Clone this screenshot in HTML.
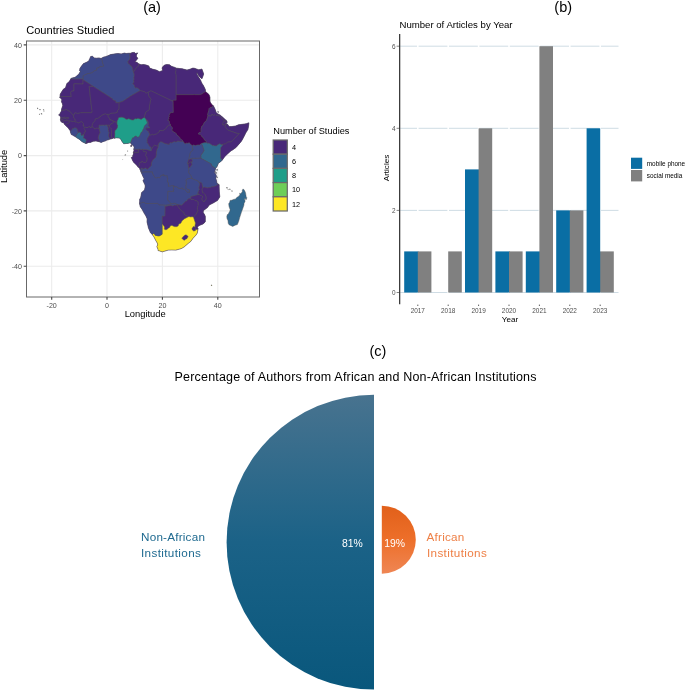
<!DOCTYPE html>
<html><head><meta charset="utf-8"><title>Figure</title>
<style>
html,body{margin:0;padding:0;background:#fff;}
body{width:685px;height:691px;overflow:hidden;font-family:"Liberation Sans",sans-serif;}
svg{display:block;}
text{font-family:"Liberation Sans",sans-serif;}
.tk{font-size:7.1px;fill:#4d4d4d;}
.ax{font-size:9.35px;fill:#000;}
.cal{fill:#000;}
</style></head><body>
<svg width="685" height="691" viewBox="0 0 685 691">
<defs>
<linearGradient id="gb" x1="0" y1="0" x2="0" y2="1"><stop offset="0" stop-color="#48738f"/><stop offset="0.5" stop-color="#1b6287"/><stop offset="1" stop-color="#09577c"/></linearGradient>
<linearGradient id="go" x1="0" y1="0" x2="0" y2="1"><stop offset="0" stop-color="#e1601a"/><stop offset="0.5" stop-color="#ed6f2a"/><stop offset="1" stop-color="#ef8654"/></linearGradient>
<clipPath id="cp"><rect x="26.5" y="41" width="233" height="256"/></clipPath>
</defs>
<rect width="685" height="691" fill="#fff"/>

<text class="cal" x="152" y="12.3" font-size="14.5" text-anchor="middle">(a)</text>
<text x="26.2" y="33.7" font-size="11.1">Countries Studied</text>
<g clip-path="url(#cp)">
<path d="M51.7,41.0V297.0M107.0,41.0V297.0M162.4,41.0V297.0M217.8,41.0V297.0M26.5,44.9H259.5M26.5,100.2H259.5M26.5,155.6H259.5M26.5,210.9H259.5M26.5,266.2H259.5" stroke="#ececec" stroke-width="1.1" fill="none"/>
<path d="M70.7,79.1L71.3,78.2L75.2,77.3L76.6,75.9L78.8,74.2L80.3,71.5L79.6,70.8L79.9,68.4L81.4,66.2L83.5,63.6L86.0,62.6L88.1,61.4L88.8,60.7L90.0,58.2L90.7,56.5L92.4,56.3L94.3,57.9L96.3,58.2L99.0,57.9L101.0,58.5L103.7,57.1L105.4,56.7L107.3,56.0L110.6,54.6L115.6,53.8L118.1,53.5L121.2,53.9L124.5,53.1L126.1,53.5L128.6,53.3L130.4,53.3L132.5,52.5L134.5,52.4L135.6,53.5L137.8,52.9L136.4,54.9L136.4,56.5L137.8,58.2L136.9,59.6L135.0,61.8L136.7,62.3L137.8,62.9L138.9,63.9L141.1,64.7L143.6,64.5L146.4,65.1L148.8,65.9L149.7,68.1L153.0,69.3L156.3,70.1L159.6,71.7L162.7,70.4L162.1,68.1L162.7,66.8L164.6,65.1L166.8,64.5L169.6,64.8L171.3,66.2L173.5,66.9L176.7,68.2L182.3,68.8L187.0,70.1L189.8,69.3L192.9,68.1L195.1,68.4L196.5,69.0L198.4,69.7L200.6,69.4L201.9,69.0L203.7,74.0L202.3,78.1L201.9,78.8L200.1,77.3L198.4,75.3L197.1,72.7L196.7,73.7L197.6,75.6L198.9,77.5L200.6,80.3L201.2,81.7L202.0,83.4L203.7,86.1L205.3,89.4L205.6,91.7L207.3,93.0L209.1,94.7L210.0,97.5L210.0,101.3L210.6,102.7L212.2,104.9L213.4,105.8L215.0,109.1L216.2,112.4L217.5,113.8L220.0,114.9L222.5,117.1L225.2,119.6L226.3,120.4L226.9,121.3L227.2,122.4L225.2,123.5L226.5,123.5L226.5,123.9L227.5,124.2L229.1,126.6L231.6,126.6L235.5,126.0L238.5,124.8L242.4,124.3L246.3,123.7L248.9,122.8L248.5,126.5L247.9,129.5L245.7,133.1L244.9,134.8L243.0,138.4L241.6,140.9L239.6,143.4L236.0,147.5L232.6,149.9L231.1,150.8L227.5,153.9L224.8,156.5L222.2,160.2L220.3,161.9L218.3,163.3L218.0,164.4L216.9,166.8L215.6,168.5L215.3,169.7L214.4,172.4L215.8,174.4L216.4,176.0L215.8,178.5L216.4,180.2L216.9,183.2L218.3,184.0L219.1,185.3L219.3,191.5L219.7,195.7L219.8,197.0L217.5,200.4L213.6,202.8L209.2,205.1L207.5,207.6L203.5,210.5L203.1,212.3L204.8,215.0L205.3,216.4L205.3,219.2L205.3,221.7L205.0,222.2L203.1,223.9L199.8,225.3L197.8,226.4L197.3,227.5L198.1,228.3L197.9,229.5L197.3,233.0L195.9,235.2L193.0,238.3L190.6,241.6L188.4,243.2L184.3,246.8L181.5,248.5L177.9,249.5L175.8,250.1L171.8,249.9L168.2,250.1L162.4,251.8L160.5,251.3L159.1,250.7L158.1,250.6L158.0,249.3L156.9,246.6L157.7,244.9L157.4,243.2L155.8,240.5L154.4,237.7L153.7,236.5L152.3,234.6L150.5,232.7L149.0,229.3L148.4,227.7L147.9,225.5L147.0,221.9L147.2,218.9L145.8,215.8L144.1,213.1L142.5,210.0L140.3,206.7L139.5,203.4L139.7,201.2L139.7,199.3L140.7,197.6L141.1,195.4L141.6,192.6L144.1,190.4L144.6,189.7L145.2,186.8L145.1,185.1L144.1,182.9L143.0,180.7L143.6,179.9L144.1,178.8L142.5,175.5L141.2,172.4L140.8,171.6L140.4,170.3L140.0,169.5L139.9,168.8L137.7,166.6L136.5,165.1L133.6,162.2L132.7,160.7L132.0,159.1L131.3,157.5L132.8,156.7L132.8,155.3L133.2,154.4L133.6,154.0L133.3,152.8L134.0,150.4L133.8,149.2L134.2,147.1L133.1,145.2L131.8,144.8L131.2,143.5L130.6,143.1L129.2,143.0L127.8,143.4L126.4,143.5L123.7,143.7L122.0,141.4L120.9,139.5L119.5,138.1L116.5,137.8L114.5,138.2L113.7,138.0L112.2,138.6L110.0,139.1L109.0,139.6L106.5,140.2L105.7,140.8L103.6,141.4L102.2,142.0L101.2,142.4L99.1,141.7L96.0,141.0L93.2,141.3L90.4,142.4L88.8,142.4L86.3,143.5L85.7,143.5L82.1,141.7L79.2,139.2L77.2,138.1L75.4,136.8L72.5,135.1L71.3,134.5L70.4,132.0L70.4,130.9L69.1,129.3L68.3,127.9L66.6,126.5L65.2,125.0L64.1,124.0L63.9,122.8L61.9,122.4L60.9,121.3L60.7,121.0L60.4,119.2L60.8,117.9L60.5,117.1L60.0,115.7L58.6,114.9L59.7,114.3L60.5,112.4L61.5,110.9L61.5,109.6L61.9,108.0L62.8,105.5L62.2,103.0L61.4,101.9L61.9,99.7L60.3,97.7L59.8,97.5L60.0,96.4L60.3,94.1L62.8,90.0L63.3,89.2L65.5,87.8L66.9,83.4L68.9,82.0L70.0,80.3Z" fill="#482878" stroke="#482878" stroke-width="0.3"/>
<g stroke="#555" stroke-width="0.45" stroke-linejoin="round">
<path d="M70.7,79.1L71.3,78.2L75.2,77.3L76.6,75.9L78.8,74.2L80.3,71.5L79.6,70.8L79.9,68.4L81.4,66.2L83.5,63.6L86.0,62.6L88.1,61.4L88.8,60.7L90.0,58.2L90.7,56.5L92.4,56.3L94.3,57.9L96.3,58.2L99.0,57.9L101.0,58.5L102.1,60.0L102.3,61.7L103.2,64.7L103.9,65.2L103.4,66.3L99.8,66.8L98.6,67.8L96.9,68.0L96.8,70.1L93.6,71.2L92.5,72.6L90.3,73.3L87.5,73.7L83.1,75.8L83.1,79.0L70.7,79.1Z" fill="#3e4989"/>
<path d="M59.8,97.5L60.0,96.4L60.3,94.1L62.8,90.0L63.3,89.2L65.5,87.8L66.9,83.4L68.9,82.0L70.0,80.3L70.7,79.1L83.1,79.0L83.1,79.8L83.0,84.0L73.9,83.8L74.0,90.9L71.4,91.2L70.7,92.6L71.3,96.6L60.4,96.6L59.8,97.5Z" fill="#482878"/>
<path d="M101.0,58.5L103.7,57.1L105.4,56.7L107.3,56.0L110.6,54.6L115.6,53.8L118.1,53.5L121.2,53.9L124.5,53.1L126.1,53.5L128.6,53.3L130.4,53.3L129.8,54.8L130.2,57.4L129.6,59.7L127.9,61.2L128.1,63.3L130.4,65.0L130.4,65.6L132.1,66.8L133.3,71.7L134.2,74.2L134.3,75.4L133.8,77.7L134.1,79.0L133.7,80.5L134.0,82.2L132.8,83.4L134.5,85.4L134.6,86.6L135.6,88.1L136.9,87.6L139.0,88.9L140.2,90.6L130.8,95.9L122.8,101.3L118.9,102.6L115.8,102.8L115.8,101.1L114.5,100.6L112.8,99.8L112.1,98.5L93.4,86.5L83.1,79.8L83.1,79.0L83.1,75.8L87.5,73.7L90.3,73.3L92.5,72.6L93.6,71.2L96.8,70.1L96.9,68.0L98.6,67.8L99.8,66.8L103.4,66.3L103.9,65.2L103.2,64.7L102.3,61.7L102.1,60.0L101.0,58.5Z" fill="#3e4989"/>
<path d="M130.4,53.3L132.5,52.5L134.5,52.4L135.6,53.5L137.8,52.9L136.4,54.9L136.4,56.5L137.8,58.2L136.9,59.6L135.0,61.8L136.7,62.3L137.8,62.9L138.9,63.9L138.7,66.0L137.3,66.8L136.5,67.7L134.9,69.9L134.6,71.1L133.3,71.7L132.1,66.8L130.4,65.6L130.4,65.0L128.1,63.3L127.9,61.2L129.6,59.7L130.2,57.4L129.8,54.8L130.4,53.3Z" fill="#482878"/>
<path d="M138.9,63.9L141.1,64.7L143.6,64.5L146.4,65.1L148.8,65.9L149.7,68.1L153.0,69.3L156.3,70.1L159.6,71.7L162.7,70.4L162.1,68.1L162.7,66.8L164.6,65.1L166.8,64.5L169.6,64.8L171.3,66.2L173.5,66.9L176.7,68.2L175.7,69.6L176.1,70.7L175.4,72.5L176.2,74.7L176.2,94.7L176.2,100.2L173.1,100.2L173.0,101.4L162.0,96.1L151.0,90.8L148.2,92.3L146.2,93.3L144.6,91.8L140.2,90.6L139.0,88.9L136.9,87.6L135.6,88.1L134.6,86.6L134.5,85.4L132.8,83.4L134.0,82.2L133.7,80.5L134.1,79.0L133.8,77.7L134.3,75.4L134.2,74.2L133.3,71.7L134.6,71.1L134.9,69.9L136.5,67.7L137.3,66.8L138.7,66.0L138.9,63.9Z" fill="#482878"/>
<path d="M176.7,68.2L182.3,68.8L187.0,70.1L189.8,69.3L192.9,68.1L195.1,68.4L196.5,69.0L198.4,69.7L200.6,69.4L201.9,69.0L203.7,74.0L202.3,78.1L201.9,78.8L200.1,77.3L198.4,75.3L197.1,72.7L196.7,73.7L197.6,75.6L198.9,77.5L200.6,80.3L201.2,81.7L202.0,83.4L203.7,86.1L205.3,89.4L205.6,91.7L203.9,92.5L202.0,94.0L199.8,94.7L194.4,94.7L194.1,94.1L193.7,94.7L176.2,94.7L176.2,74.7L175.4,72.5L176.1,70.7L175.7,69.6L176.7,68.2Z" fill="#482878"/>
<path d="M205.6,91.7L207.3,93.0L209.1,94.7L210.0,97.5L210.0,101.3L210.6,102.7L212.2,104.9L213.4,105.8L212.0,107.3L209.9,107.8L209.1,108.6L208.8,110.5L207.6,114.6L207.9,115.7L207.4,118.0L206.3,120.8L204.6,122.1L203.5,124.2L203.2,125.4L201.9,126.1L201.1,129.1L201.1,131.5L200.7,132.4L199.2,132.5L198.3,134.0L200.0,134.2L201.4,135.6L201.9,136.7L203.1,137.3L204.8,140.3L206.2,140.8L206.2,142.3L206.6,142.8L203.9,142.8L201.2,143.8L199.5,145.1L197.5,145.1L195.3,145.7L193.6,145.1L192.4,145.8L190.0,144.0L189.3,142.8L187.8,143.4L186.5,143.2L185.7,143.7L184.5,143.4L182.8,141.1L182.4,140.2L180.3,139.1L179.6,137.4L178.5,136.2L176.6,134.8L176.6,133.9L175.1,132.8L173.0,131.6L172.0,130.8L171.8,129.9L172.3,128.8L172.2,127.6L170.7,125.9L170.3,124.7L170.4,124.1L169.4,123.2L169.3,121.6L168.7,120.6L167.8,120.7L168.1,119.7L168.8,118.6L168.4,117.4L169.4,116.6L168.8,115.9L169.5,114.2L170.8,112.2L173.2,112.4L173.0,101.4L173.1,100.2L176.2,100.2L176.2,94.7L193.7,94.7L194.1,94.1L194.4,94.7L199.8,94.7L202.0,94.0L203.9,92.5L205.6,91.7Z" fill="#440154"/>
<path d="M213.4,105.8L215.0,109.1L216.2,112.4L217.5,113.8L220.0,114.9L222.5,117.1L225.2,119.6L226.3,120.4L225.5,121.1L224.3,120.9L223.3,120.0L222.2,118.3L221.0,117.5L220.3,116.5L217.9,115.4L215.9,115.4L215.3,114.8L213.6,115.4L212.0,114.2L211.1,116.2L207.9,115.7L207.6,114.6L208.8,110.5L209.1,108.6L209.9,107.8L212.0,107.3L213.4,105.8Z" fill="#482878"/>
<path d="M226.3,120.4L226.9,121.3L227.2,122.4L225.2,123.5L226.5,123.5L226.5,123.9L225.9,125.2L225.5,125.3L224.8,124.8L224.2,125.0L222.6,125.0L222.6,124.1L222.4,123.4L224.3,120.9L225.5,121.1L226.3,120.4Z" fill="#482878"/>
<path d="M226.5,123.9L227.5,124.2L229.1,126.6L231.6,126.6L235.5,126.0L238.5,124.8L242.4,124.3L246.3,123.7L248.9,122.8L248.5,126.5L247.9,129.5L245.7,133.1L244.9,134.8L243.0,138.4L241.6,140.9L239.6,143.4L236.0,147.5L232.6,149.9L231.1,150.8L227.5,153.9L224.8,156.5L222.2,160.2L220.5,157.9L220.5,147.9L222.9,144.7L223.7,143.8L225.4,143.8L227.9,141.8L231.5,141.7L239.3,133.4L237.0,133.4L228.0,130.2L226.9,129.2L225.9,127.8L224.9,126.3L225.5,125.3L225.9,125.2L226.5,123.9Z" fill="#482878"/>
<path d="M207.9,115.7L211.1,116.2L212.0,114.2L213.6,115.4L215.3,114.8L215.9,115.4L217.9,115.4L220.3,116.5L221.0,117.5L222.2,118.3L223.3,120.0L224.3,120.9L222.4,123.4L222.6,124.1L222.6,125.0L224.2,125.0L224.8,124.8L225.5,125.3L224.9,126.3L225.9,127.8L226.9,129.2L228.0,130.2L237.0,133.4L239.3,133.4L231.5,141.7L227.9,141.8L225.4,143.8L223.7,143.8L222.9,144.7L221.0,144.7L219.9,143.8L217.4,144.9L216.6,146.1L214.7,145.9L214.1,145.5L213.5,145.6L212.6,145.6L209.1,143.2L207.1,143.2L206.6,142.8L206.2,142.3L206.2,140.8L204.8,140.3L203.1,137.3L201.9,136.7L201.4,135.6L200.0,134.2L198.3,134.0L199.2,132.5L200.7,132.4L201.1,131.5L201.1,129.1L201.9,126.1L203.2,125.4L203.5,124.2L204.6,122.1L206.3,120.8L207.4,118.0L207.9,115.7Z" fill="#482878"/>
<path d="M222.2,160.2L220.3,161.9L218.3,163.3L218.0,164.4L216.9,166.8L215.6,168.5L211.6,165.7L211.4,164.1L201.4,158.5L200.9,158.2L200.9,155.2L201.7,154.1L203.0,152.3L204.0,150.3L202.8,147.1L202.5,145.7L201.2,143.8L203.9,142.8L206.6,142.8L207.1,143.2L209.1,143.2L212.6,145.6L213.5,145.6L214.1,145.5L214.7,145.9L216.6,146.1L217.4,144.9L219.9,143.8L221.0,144.7L222.9,144.7L220.5,147.9L220.5,157.9L222.2,160.2Z" fill="#31688e"/>
<path d="M192.4,145.8L193.6,145.1L195.3,145.7L197.5,145.1L199.5,145.1L201.2,143.8L202.5,145.7L202.8,147.1L204.0,150.3L203.0,152.3L201.7,154.1L200.9,155.2L200.9,158.2L195.3,158.4L192.2,158.3L191.3,158.7L189.6,159.5L188.9,159.3L189.0,157.2L189.6,156.1L189.8,153.9L190.3,152.6L191.4,151.2L192.4,150.4L193.3,149.5L192.2,149.1L192.4,145.8Z" fill="#3e4989"/>
<path d="M188.9,159.3L189.6,159.5L191.3,158.7L192.4,160.3L192.2,161.9L191.4,162.2L189.9,162.1L189.1,163.6L187.4,163.4L187.7,161.9L188.0,161.7L188.1,160.0L188.9,159.3Z" fill="#482878"/>
<path d="M187.4,163.4L189.1,163.6L189.9,162.1L191.4,162.2L191.6,163.3L192.1,163.9L192.2,164.8L191.5,165.4L190.4,166.9L189.4,167.9L188.3,168.0L188.1,164.7L187.4,163.4Z" fill="#482878"/>
<path d="M215.6,168.5L215.3,169.7L214.4,172.4L215.8,174.4L216.4,176.0L215.8,178.5L216.4,180.2L216.9,183.2L218.3,184.0L219.1,185.3L218.7,184.1L216.4,185.7L213.4,186.8L211.8,186.7L210.8,187.6L208.9,187.6L208.1,188.0L204.8,187.2L202.7,187.4L201.9,183.7L201.0,182.4L199.0,182.3L197.7,181.1L196.2,180.3L194.4,179.8L193.3,179.3L192.1,178.6L190.6,175.1L189.0,173.6L188.5,172.0L188.8,170.5L188.3,168.0L189.4,167.9L190.4,166.9L191.5,165.4L192.2,164.8L192.1,163.9L191.6,163.3L191.4,162.2L192.2,161.9L192.4,160.3L191.3,158.7L192.2,158.3L195.3,158.4L200.9,158.2L201.4,158.5L211.4,164.1L211.6,165.7L215.6,168.5Z" fill="#3e4989"/>
<path d="M219.1,185.3L219.3,191.5L219.7,195.7L219.8,197.0L217.5,200.4L213.6,202.8L209.2,205.1L207.5,207.6L203.5,210.5L203.1,212.3L204.8,215.0L205.3,216.4L205.3,219.2L205.3,221.7L205.0,222.2L203.1,223.9L199.8,225.3L197.8,226.4L197.3,227.5L198.1,228.3L197.9,229.5L195.8,229.5L195.6,228.3L195.2,227.0L194.9,226.0L195.4,223.0L194.7,221.0L193.4,217.1L196.3,214.0L197.0,212.0L197.5,211.7L197.8,210.1L197.3,209.3L197.4,207.2L198.0,205.3L198.0,201.8L196.5,200.9L195.2,200.7L194.6,200.0L193.3,199.4L191.0,199.5L190.8,198.5L190.6,196.5L199.0,194.2L200.6,195.5L201.3,195.3L202.4,196.0L202.6,197.1L202.0,198.4L202.2,200.3L204.0,202.0L204.9,200.1L206.1,199.5L205.8,196.0L204.7,194.0L203.7,193.1L202.7,193.1L201.9,189.5L202.7,187.4L204.8,187.2L208.1,188.0L208.9,187.6L210.8,187.6L211.8,186.7L213.4,186.8L216.4,185.7L218.7,184.1L219.1,185.3Z" fill="#482878"/>
<path d="M197.7,181.1L199.0,182.3L201.0,182.4L201.9,183.7L202.7,187.4L201.9,189.5L202.7,193.1L203.7,193.1L204.7,194.0L205.8,196.0L206.1,199.5L204.9,200.1L204.0,202.0L202.2,200.3L202.0,198.4L202.6,197.1L202.4,196.0L201.3,195.3L200.6,195.5L199.0,194.2L197.5,193.5L198.4,190.9L199.3,190.0L198.7,187.7L199.3,185.4L199.8,184.7L199.0,182.3L197.7,181.1Z" fill="#482878"/>
<path d="M192.1,178.6L193.3,179.3L194.4,179.8L196.2,180.3L197.7,181.1L199.0,182.3L199.8,184.7L199.3,185.4L198.7,187.7L199.3,190.0L198.4,190.9L197.5,193.5L199.0,194.2L190.6,196.5L190.8,198.5L188.8,198.8L187.2,199.9L186.9,200.9L185.9,201.1L183.4,203.4L181.9,205.2L181.0,205.2L180.1,204.9L177.0,204.6L176.5,204.4L176.5,204.2L175.4,203.5L173.6,203.4L171.3,204.0L167.6,200.0L167.8,191.2L173.5,191.3L173.3,190.3L173.7,189.3L173.2,188.0L173.5,186.6L173.2,185.8L174.2,185.8L174.3,186.7L175.6,186.6L177.4,186.9L178.3,188.1L180.5,188.5L182.2,187.7L182.9,189.1L185.0,189.5L186.0,190.7L187.1,192.2L189.3,192.2L189.0,189.2L188.3,189.7L186.3,188.7L185.6,188.2L185.9,185.4L186.4,182.1L185.8,180.9L186.6,179.1L187.3,178.8L191.1,178.3L192.1,178.6Z" fill="#3e4989"/>
<path d="M177.0,204.6L180.1,204.9L181.0,205.2L181.9,205.2L183.4,203.4L185.9,201.1L186.9,200.9L187.2,199.9L188.8,198.8L190.8,198.5L191.0,199.5L193.3,199.4L194.6,200.0L195.2,200.7L196.5,200.9L198.0,201.8L198.0,205.3L197.4,207.2L197.3,209.3L197.8,210.1L197.5,211.7L197.0,212.0L196.3,214.0L193.4,217.1L191.9,216.8L191.0,217.1L189.6,216.7L188.5,216.7L184.6,215.0L183.8,213.2L183.8,212.3L182.6,211.9L179.5,208.9L178.6,207.3L178.0,206.8L177.0,204.6Z" fill="#482878"/>
<path d="M177.0,204.6L178.0,206.8L178.6,207.3L179.5,208.9L182.6,211.9L183.8,212.3L183.8,213.2L184.6,215.0L188.5,216.7L184.6,218.7L182.1,220.7L181.2,222.6L180.4,223.6L178.9,223.9L178.4,225.2L178.1,226.1L176.3,226.7L174.1,226.6L172.7,225.8L171.6,225.4L170.2,226.1L169.6,227.4L168.3,228.2L166.9,229.5L164.9,229.8L164.3,228.8L164.5,227.1L162.9,224.5L162.1,224.1L162.1,216.0L164.8,215.9L164.9,206.0L167.0,205.9L171.3,205.0L172.3,206.1L174.1,205.0L174.9,205.0L176.5,205.1L177.0,204.6Z" fill="#482878"/>
<path d="M195.2,227.0L193.8,226.5L193.0,226.7L192.7,227.5L192.0,228.6L192.0,229.5L193.6,231.0L195.3,230.7L195.8,229.5L195.6,228.3L195.2,227.0Z" fill="#482878"/>
<path d="M197.9,229.5L197.3,233.0L195.9,235.2L193.0,238.3L190.6,241.6L188.4,243.2L184.3,246.8L181.5,248.5L177.9,249.5L175.8,250.1L171.8,249.9L168.2,250.1L162.4,251.8L160.5,251.3L159.1,250.7L158.1,250.6L158.0,249.3L156.9,246.6L157.7,244.9L157.4,243.2L155.8,240.5L154.4,237.7L153.7,236.5L152.3,234.6L153.6,233.2L154.7,234.0L155.2,235.2L156.4,235.4L158.1,235.9L159.6,235.7L162.1,234.3L162.1,224.1L162.9,224.5L164.5,227.1L164.3,228.8L164.9,229.8L166.9,229.5L168.3,228.2L169.6,227.4L170.2,226.1L171.6,225.4L172.7,225.8L174.1,226.6L176.3,226.7L178.1,226.1L178.4,225.2L178.9,223.9L180.4,223.6L181.2,222.6L182.1,220.7L184.6,218.7L188.5,216.7L189.6,216.7L191.0,217.1L191.9,216.8L193.4,217.1L194.7,221.0L195.4,223.0L194.9,226.0L195.2,227.0L193.8,226.5L193.0,226.7L192.7,227.5L192.0,228.6L192.0,229.5L193.6,231.0L195.3,230.7L195.8,229.5L197.9,229.5Z" fill="#fde725"/>
<path d="M152.3,234.6L150.5,232.7L149.0,229.3L148.4,227.7L147.9,225.5L147.0,221.9L147.2,218.9L145.8,215.8L144.1,213.1L142.5,210.0L140.3,206.7L139.5,203.4L140.9,202.9L142.5,202.4L144.3,202.5L146.0,203.7L146.4,203.5L157.6,203.4L159.5,204.8L166.2,205.1L171.3,204.0L173.6,203.4L175.4,203.5L176.5,204.2L176.5,204.4L177.0,204.6L176.5,205.1L174.9,205.0L174.1,205.0L172.3,206.1L171.3,205.0L167.0,205.9L164.9,206.0L164.8,215.9L162.1,216.0L162.1,224.1L162.1,234.3L159.6,235.7L158.1,235.9L156.4,235.4L155.2,235.2L154.7,234.0L153.6,233.2L152.3,234.6Z" fill="#3e4989"/>
<path d="M139.5,203.4L139.7,201.2L139.7,199.3L140.7,197.6L141.1,195.4L141.6,192.6L144.1,190.4L144.6,189.7L145.2,186.8L145.1,185.1L144.1,182.9L143.0,180.7L143.6,179.9L144.1,178.8L142.5,175.5L141.2,172.4L142.3,172.1L143.1,172.1L144.1,171.8L152.3,171.8L152.9,173.9L153.7,175.5L154.4,176.4L155.4,177.9L157.2,177.7L158.1,177.3L159.7,177.7L160.1,177.0L160.8,175.4L162.5,175.2L162.7,174.7L164.1,174.7L163.8,175.7L167.2,175.7L167.3,177.5L167.8,178.5L167.4,180.2L167.6,181.9L168.5,182.9L168.4,186.2L169.1,185.9L170.3,186.0L172.0,185.6L173.2,185.8L173.5,186.6L173.2,188.0L173.7,189.3L173.3,190.3L173.5,191.3L167.8,191.2L167.6,200.0L171.3,204.0L166.2,205.1L159.5,204.8L157.6,203.4L146.4,203.5L146.0,203.7L144.3,202.5L142.5,202.4L140.9,202.9L139.5,203.4Z" fill="#3e4989"/>
<path d="M140.8,171.6L140.4,170.3L140.0,169.5L141.2,168.3L142.0,167.8L143.0,168.8L142.0,169.4L141.6,170.1L141.5,171.3L140.8,171.6Z" fill="#3e4989"/>
<path d="M141.2,172.4L140.8,171.6L141.5,171.3L141.6,170.1L142.0,169.4L143.0,168.8L143.8,169.0L144.7,168.0L146.2,168.0L146.4,168.8L147.4,169.3L149.0,167.6L150.6,166.2L151.4,165.3L151.3,163.0L152.5,160.4L153.7,159.0L155.5,157.6L155.9,156.7L155.9,155.7L156.4,154.7L156.2,153.2L156.6,150.7L157.1,149.0L158.0,147.5L158.1,145.9L158.4,143.9L159.4,142.5L160.9,141.6L163.2,142.6L165.0,143.6L167.0,143.9L169.1,144.4L169.9,142.7L170.3,142.5L171.5,142.8L174.6,141.4L175.7,142.0L176.6,141.9L177.0,141.2L178.0,141.0L180.1,141.3L181.9,141.4L182.8,141.1L184.5,143.4L185.7,143.7L186.5,143.2L187.8,143.4L189.3,142.8L190.0,144.0L192.4,145.8L192.2,149.1L193.3,149.5L192.4,150.4L191.4,151.2L190.3,152.6L189.8,153.9L189.6,156.1L189.0,157.2L188.9,159.3L188.1,160.0L188.0,161.7L187.7,161.9L187.4,163.4L188.1,164.7L188.3,168.0L188.8,170.5L188.5,172.0L189.0,173.6L190.6,175.1L192.1,178.6L191.1,178.3L187.3,178.8L186.6,179.1L185.8,180.9L186.4,182.1L185.9,185.4L185.6,188.2L186.3,188.7L188.3,189.7L189.0,189.2L189.3,192.2L187.1,192.2L186.0,190.7L185.0,189.5L182.9,189.1L182.2,187.7L180.5,188.5L178.3,188.1L177.4,186.9L175.6,186.6L174.3,186.7L174.2,185.8L173.2,185.8L172.0,185.6L170.3,186.0L169.1,185.9L168.4,186.2L168.5,182.9L167.6,181.9L167.4,180.2L167.8,178.5L167.3,177.5L167.2,175.7L163.8,175.7L164.1,174.7L162.7,174.7L162.5,175.2L160.8,175.4L160.1,177.0L159.7,177.7L158.1,177.3L157.2,177.7L155.4,177.9L154.4,176.4L153.7,175.5L152.9,173.9L152.3,171.8L144.1,171.8L143.1,172.1L142.3,172.1L141.2,172.4Z" fill="#3e4989"/>
<path d="M140.0,169.5L139.9,168.8L137.7,166.6L139.9,165.0L138.8,163.2L139.8,162.5L141.6,162.2L141.9,160.9L143.3,162.3L145.8,162.4L146.6,161.1L147.0,159.2L146.7,157.1L145.4,155.4L146.6,152.2L145.9,151.7L143.8,151.9L143.0,150.5L143.3,149.3L146.7,149.4L149.0,150.1L151.2,150.8L151.4,149.3L152.8,146.7L154.5,145.2L156.3,145.7L158.1,145.9L158.0,147.5L157.1,149.0L156.6,150.7L156.2,153.2L156.4,154.7L155.9,155.7L155.9,156.7L155.5,157.6L153.7,159.0L152.5,160.4L151.3,163.0L151.4,165.3L150.6,166.2L149.0,167.6L147.4,169.3L146.4,168.8L146.2,168.0L144.7,168.0L143.8,169.0L143.0,168.8L142.0,167.8L141.2,168.3L140.0,169.5Z" fill="#482878"/>
<path d="M137.7,166.6L136.5,165.1L133.6,162.2L132.7,160.7L132.0,159.1L131.3,157.5L132.8,156.7L132.8,155.3L133.2,154.4L133.6,154.0L133.3,152.8L134.3,152.6L138.3,152.6L138.3,149.3L139.6,149.1L141.3,149.5L142.9,149.1L143.3,149.3L143.0,150.5L143.8,151.9L145.9,151.7L146.6,152.2L145.4,155.4L146.7,157.1L147.0,159.2L146.6,161.1L145.8,162.4L143.3,162.3L141.9,160.9L141.6,162.2L139.8,162.5L138.8,163.2L139.9,165.0L137.7,166.6Z" fill="#482878"/>
<path d="M133.3,152.8L134.0,150.4L133.8,149.2L138.3,149.3L138.3,152.6L134.3,152.6L133.3,152.8Z" fill="#482878"/>
<path d="M133.8,149.2L134.2,147.1L133.1,145.2L131.8,144.8L131.2,143.5L130.6,143.1L130.6,142.4L131.3,140.4L132.6,137.7L133.4,137.7L135.1,136.1L136.1,136.0L137.7,137.2L139.6,136.2L139.8,135.1L140.4,134.0L140.9,132.6L142.3,131.4L142.9,129.5L143.5,128.9L143.9,127.4L144.6,125.7L147.0,123.5L147.1,122.6L147.4,122.1L146.3,121.0L146.4,120.1L147.2,120.0L148.3,121.7L148.5,123.6L148.3,125.4L149.9,127.9L148.3,127.9L147.5,128.1L146.3,127.8L145.7,129.1L147.3,130.7L148.5,131.2L148.9,132.4L149.8,134.3L149.3,135.0L148.0,137.8L147.3,138.3L147.1,140.5L147.4,141.6L147.1,142.5L148.4,143.9L148.7,144.9L149.7,146.3L151.0,147.2L151.1,148.5L151.4,149.3L151.2,150.8L149.0,150.1L146.7,149.4L143.3,149.3L142.9,149.1L141.3,149.5L139.6,149.1L138.3,149.3L133.8,149.2Z" fill="#3e4989"/>
<path d="M170.3,124.7L168.6,125.2L167.2,126.3L165.2,129.3L162.6,130.6L159.9,130.5L159.1,130.7L159.4,131.7L158.0,132.6L156.8,133.7L153.3,134.8L152.6,134.2L152.1,134.1L151.6,134.8L149.3,135.0L148.0,137.8L147.3,138.3L147.1,140.5L147.4,141.6L147.1,142.5L148.4,143.9L148.7,144.9L149.7,146.3L151.0,147.2L151.1,148.5L151.4,149.3L152.8,146.7L154.5,145.2L156.3,145.7L158.1,145.9L158.4,143.9L159.4,142.5L160.9,141.6L163.2,142.6L165.0,143.6L167.0,143.9L169.1,144.4L169.9,142.7L170.3,142.5L171.5,142.8L174.6,141.4L175.7,142.0L176.6,141.9L177.0,141.2L178.0,141.0L180.1,141.3L181.9,141.4L182.8,141.1L182.4,140.2L180.3,139.1L179.6,137.4L178.5,136.2L176.6,134.8L176.6,133.9L175.1,132.8L173.0,131.6L172.0,130.8L171.8,129.9L172.3,128.8L172.2,127.6L170.7,125.9L170.3,124.7Z" fill="#482878"/>
<path d="M148.2,92.3L151.0,90.8L162.0,96.1L173.0,101.4L173.2,112.4L170.8,112.2L169.5,114.2L168.8,115.9L169.4,116.6L168.4,117.4L168.8,118.6L168.1,119.7L167.8,120.7L168.7,120.6L169.3,121.6L169.4,123.2L170.4,124.1L170.3,124.7L168.6,125.2L167.2,126.3L165.2,129.3L162.6,130.6L159.9,130.5L159.1,130.7L159.4,131.7L158.0,132.6L156.8,133.7L153.3,134.8L152.6,134.2L152.1,134.1L151.6,134.8L149.3,135.0L149.8,134.3L148.9,132.4L148.5,131.2L147.3,130.7L145.7,129.1L146.3,127.8L147.5,128.1L148.3,127.9L149.9,127.9L148.3,125.4L148.5,123.6L148.3,121.7L147.2,120.0L146.4,120.1L144.7,117.7L144.5,115.8L145.7,112.2L149.3,109.6L149.4,106.0L150.5,100.3L151.1,99.2L149.9,98.2L149.9,97.3L148.8,96.6L148.2,92.3Z" fill="#482878"/>
<path d="M140.2,90.6L144.6,91.8L146.2,93.3L148.2,92.3L148.8,96.6L149.9,97.3L149.9,98.2L151.1,99.2L150.5,100.3L149.4,106.0L149.3,109.6L145.7,112.2L144.5,115.8L144.7,117.7L143.3,117.9L141.1,119.5L139.0,118.7L137.5,118.5L136.7,118.9L135.0,118.8L133.4,120.0L132.0,120.1L128.6,118.7L127.3,119.3L125.9,119.3L124.9,118.2L122.1,117.2L119.1,117.5L118.4,118.1L118.0,119.7L117.2,120.8L117.0,123.3L114.9,121.7L113.9,121.7L113.0,122.5L113.1,120.6L109.9,120.0L109.8,118.7L108.2,116.9L107.9,115.6L108.1,114.3L109.9,114.1L110.9,113.2L114.7,112.9L117.1,112.5L117.3,110.8L118.9,108.9L118.9,102.6L122.8,101.3L130.8,95.9L140.2,90.6Z" fill="#482878"/>
<path d="M130.6,143.1L129.2,143.0L127.8,143.4L126.4,143.5L123.7,143.7L122.0,141.4L120.9,139.5L119.5,138.1L116.5,137.8L114.5,138.2L114.7,133.8L114.6,132.0L115.1,130.3L116.0,129.4L117.3,127.7L117.0,127.0L117.6,125.9L116.9,124.2L117.0,123.3L117.2,120.8L118.0,119.7L118.4,118.1L119.1,117.5L122.1,117.2L124.9,118.2L125.9,119.3L127.3,119.3L128.6,118.7L132.0,120.1L133.4,120.0L135.0,118.8L136.7,118.9L137.5,118.5L139.0,118.7L141.1,119.5L143.3,117.9L144.7,117.7L146.4,120.1L146.3,121.0L147.4,122.1L147.1,122.6L147.0,123.5L144.6,125.7L143.9,127.4L143.5,128.9L142.9,129.5L142.3,131.4L140.9,132.6L140.4,134.0L139.8,135.1L139.6,136.2L137.7,137.2L136.1,136.0L135.1,136.1L133.4,137.7L132.6,137.7L131.3,140.4L130.6,142.4L130.6,143.1Z" fill="#1f9e89"/>
<path d="M114.5,138.2L113.7,138.0L112.2,138.6L111.5,136.7L111.6,130.3L111.1,129.7L111.0,128.4L110.0,127.4L109.2,126.6L109.5,125.1L110.5,124.8L111.1,123.6L112.4,123.4L113.0,122.5L113.9,121.7L114.9,121.7L117.0,123.3L116.9,124.2L117.6,125.9L117.0,127.0L117.3,127.7L116.0,129.4L115.1,130.3L114.6,132.0L114.7,133.8L114.5,138.2Z" fill="#482878"/>
<path d="M112.2,138.6L110.0,139.1L109.4,138.2L108.6,136.4L108.4,135.1L109.0,132.6L108.3,131.5L108.1,129.4L108.1,127.4L106.9,125.9L107.1,125.1L109.5,125.1L109.2,126.6L110.0,127.4L111.0,128.4L111.1,129.7L111.6,130.3L111.5,136.7L112.2,138.6Z" fill="#482878"/>
<path d="M110.0,139.1L109.0,139.6L106.5,140.2L105.7,140.8L103.6,141.4L102.2,142.0L101.2,142.4L99.1,141.7L99.3,140.6L98.1,138.3L98.8,135.1L100.0,132.8L99.2,128.9L98.9,126.8L98.9,125.2L103.7,125.1L104.9,125.3L105.8,124.8L107.1,125.1L106.9,125.9L108.1,127.4L108.1,129.4L108.3,131.5L109.0,132.6L108.4,135.1L108.6,136.4L109.4,138.2L110.0,139.1Z" fill="#3e4989"/>
<path d="M108.1,114.3L106.3,114.3L105.6,113.7L104.1,114.1L101.5,115.3L101.0,116.1L98.8,117.4L98.5,118.1L97.3,118.7L96.0,118.3L95.2,119.0L94.8,120.9L92.6,123.2L92.7,124.1L91.9,125.3L92.1,126.9L93.3,127.5L93.8,128.4L95.1,129.0L96.0,128.3L97.3,128.2L99.2,128.9L98.9,126.8L98.9,125.2L103.7,125.1L104.9,125.3L105.8,124.8L107.1,125.1L109.5,125.1L110.5,124.8L111.1,123.6L112.4,123.4L113.0,122.5L113.1,120.6L109.9,120.0L109.8,118.7L108.2,116.9L107.9,115.6L108.1,114.3Z" fill="#482878"/>
<path d="M99.1,141.7L96.0,141.0L93.2,141.3L90.4,142.4L88.8,142.4L86.3,143.5L85.7,143.5L85.9,141.2L86.2,140.9L86.1,139.8L84.9,138.6L84.0,138.4L83.2,137.7L83.8,136.4L83.5,135.1L83.7,134.3L84.1,134.3L84.3,133.1L84.1,132.5L84.4,132.1L85.4,131.8L84.7,129.6L84.0,128.5L84.3,127.5L84.8,127.3L85.2,127.1L86.0,127.5L88.1,127.5L88.6,126.7L89.1,126.8L89.9,126.5L90.3,127.6L90.9,127.3L92.1,126.9L93.3,127.5L93.8,128.4L95.1,129.0L96.0,128.3L97.3,128.2L99.2,128.9L100.0,132.8L98.8,135.1L98.1,138.3L99.3,140.6L99.1,141.7Z" fill="#482878"/>
<path d="M85.7,143.5L82.1,141.7L79.2,139.2L77.2,138.1L75.4,136.8L76.0,135.9L76.2,135.1L77.4,133.6L78.7,132.3L79.3,132.2L80.0,131.9L81.2,133.6L81.0,134.7L81.6,135.3L82.3,135.3L82.9,134.2L83.7,134.3L83.5,135.1L83.8,136.4L83.2,137.7L84.0,138.4L84.9,138.6L86.1,139.8L86.2,140.9L85.9,141.2L85.7,143.5Z" fill="#31688e"/>
<path d="M75.4,136.8L72.5,135.1L71.3,134.5L70.4,132.0L70.4,130.9L71.9,129.7L72.2,128.9L72.6,128.3L73.4,128.3L74.1,127.8L76.3,127.8L77.0,128.7L77.7,129.9L77.6,130.7L78.0,131.4L78.0,132.5L78.7,132.3L77.4,133.6L76.2,135.1L76.0,135.9L75.4,136.8Z" fill="#3e4989"/>
<path d="M70.4,130.9L69.1,129.3L68.3,127.9L66.6,126.5L65.2,125.0L66.4,123.7L67.2,123.7L68.0,123.2L68.6,123.2L69.0,122.9L68.8,122.0L69.1,121.7L69.1,120.7L70.5,120.8L72.5,121.4L73.1,121.4L73.3,121.1L74.8,121.3L75.8,122.1L76.5,121.8L77.0,121.9L77.7,122.6L78.9,122.8L79.7,122.2L80.6,121.8L81.2,121.4L81.8,121.5L82.4,122.1L82.7,122.9L83.9,124.0L83.3,124.7L83.2,125.6L83.8,125.4L84.1,125.7L84.0,126.5L84.8,127.3L84.3,127.5L84.0,128.5L84.7,129.6L85.4,131.8L84.4,132.1L84.1,132.5L84.3,133.1L84.1,134.3L83.7,134.3L82.9,134.2L82.3,135.3L81.6,135.3L81.0,134.7L81.2,133.6L80.0,131.9L79.3,132.2L78.7,132.3L78.0,132.5L78.0,131.4L77.6,130.7L77.7,129.9L77.0,128.7L76.3,127.8L74.1,127.8L73.4,128.3L72.6,128.3L72.2,128.9L71.9,129.7L70.4,130.9Z" fill="#482878"/>
<path d="M65.2,125.0L64.1,124.0L63.9,122.8L61.9,122.4L60.9,121.3L62.3,120.8L63.3,120.9L64.0,120.6L69.1,120.7L69.1,121.7L68.8,122.0L69.0,122.9L68.6,123.2L68.0,123.2L67.2,123.7L66.4,123.7L65.2,125.0Z" fill="#482878"/>
<path d="M60.9,121.3L60.7,121.0L60.4,119.2L63.0,119.2L63.6,118.8L64.1,118.8L65.1,118.2L66.3,118.8L67.5,118.8L68.7,118.2L68.2,117.4L67.2,117.8L66.4,117.8L65.3,117.2L64.4,117.2L63.8,117.9L60.8,117.9L60.5,117.1L60.0,115.7L58.6,114.9L59.7,114.3L60.5,112.4L61.5,110.9L62.4,110.0L63.8,110.3L65.1,109.7L66.7,109.6L68.0,110.5L69.8,111.2L71.5,113.2L73.4,115.1L73.5,116.9L74.0,118.4L75.1,119.2L75.3,120.3L75.2,121.1L74.8,121.3L73.3,121.1L73.1,121.4L72.5,121.4L70.5,120.8L69.1,120.7L64.0,120.6L63.3,120.9L62.3,120.8L60.9,121.3Z" fill="#482878"/>
<path d="M60.4,119.2L60.8,117.9L63.8,117.9L64.4,117.2L65.3,117.2L66.4,117.8L67.2,117.8L68.2,117.4L68.7,118.2L67.5,118.8L66.3,118.8L65.1,118.2L64.1,118.8L63.6,118.8L63.0,119.2L60.4,119.2Z" fill="#482878"/>
<path d="M61.5,110.9L61.5,109.6L61.9,108.0L62.8,105.5L62.2,103.0L61.4,101.9L61.9,99.7L60.3,97.7L59.8,97.5L60.4,96.6L71.3,96.6L70.7,92.6L71.4,91.2L74.0,90.9L73.9,83.8L83.0,84.0L83.1,79.8L93.4,86.5L89.2,86.5L90.5,98.5L91.9,110.4L92.3,110.7L91.7,112.7L80.6,112.7L80.2,113.3L79.1,113.1L77.6,113.7L75.6,112.9L74.7,113.0L74.3,114.6L73.4,115.1L71.5,113.2L69.8,111.2L68.0,110.5L66.7,109.6L65.1,109.7L63.8,110.3L62.4,110.0L61.5,110.9Z" fill="#482878"/>
<path d="M73.4,115.1L74.3,114.6L74.7,113.0L75.6,112.9L77.6,113.7L79.1,113.1L80.2,113.3L80.6,112.7L91.7,112.7L92.3,110.7L91.9,110.4L90.5,98.5L89.2,86.5L93.4,86.5L112.1,98.5L112.8,99.8L114.5,100.6L115.8,101.1L115.8,102.8L118.9,102.6L118.9,108.9L117.3,110.8L117.1,112.5L114.7,112.9L110.9,113.2L109.9,114.1L108.1,114.3L106.3,114.3L105.6,113.7L104.1,114.1L101.5,115.3L101.0,116.1L98.8,117.4L98.5,118.1L97.3,118.7L96.0,118.3L95.2,119.0L94.8,120.9L92.6,123.2L92.7,124.1L91.9,125.3L92.1,126.9L90.9,127.3L90.3,127.6L89.9,126.5L89.1,126.8L88.6,126.7L88.1,127.5L86.0,127.5L85.2,127.1L84.8,127.3L84.0,126.5L84.1,125.7L83.8,125.4L83.2,125.6L83.3,124.7L83.9,124.0L82.7,122.9L82.4,122.1L81.8,121.5L81.2,121.4L80.6,121.8L79.7,122.2L78.9,122.8L77.7,122.6L77.0,121.9L76.5,121.8L75.8,122.1L74.8,121.3L75.2,121.1L75.3,120.3L75.1,119.2L74.0,118.4L73.5,116.9L73.4,115.1Z" fill="#482878"/>
<path d="M187.3,235.7L188.2,236.5L187.4,237.8L186.9,238.7L185.4,239.2L184.9,240.1L183.9,240.3L181.8,238.2L183.3,236.4L184.7,235.3L186.0,234.8Z" fill="#482878"/>
<path d="M244.2,190.0L244.9,191.2L245.6,193.1L246.1,196.4L246.8,197.7L246.5,199.0L246.0,199.8L245.1,198.2L244.5,199.0L245.1,201.1L244.8,202.2L244.1,202.9L243.9,205.2L242.8,208.4L241.4,212.3L239.7,217.5L238.7,221.3L237.4,224.5L235.2,225.2L232.7,226.4L231.1,225.7L229.0,224.7L228.2,223.2L228.0,220.7L227.0,218.6L226.8,216.6L227.3,214.6L228.5,214.1L228.6,213.2L229.9,211.1L230.1,209.3L229.5,208.0L229.0,206.3L228.7,203.7L229.7,202.2L230.1,200.4L231.4,200.3L233.0,199.7L234.0,199.2L235.2,199.2L236.8,197.6L239.1,195.9L239.9,194.5L239.6,193.3L240.7,193.7L242.3,191.8L242.3,190.1L243.2,188.9Z" fill="#31688e"/>
<path d="M37.0,108.3L37.9,108.0L37.7,108.7Z" fill="#fff" stroke="#4a4a4a" stroke-width="0.55"/>
<path d="M39.5,109.5L40.5,109.6L39.8,109.9Z" fill="#fff" stroke="#4a4a4a" stroke-width="0.55"/>
<path d="M43.5,109.1L43.8,109.6L43.4,109.6Z" fill="#fff" stroke="#4a4a4a" stroke-width="0.55"/>
<path d="M43.7,110.7L44.2,111.0L43.8,111.3Z" fill="#fff" stroke="#4a4a4a" stroke-width="0.55"/>
<path d="M41.3,113.2L42.1,114.1L41.7,114.3L41.2,113.9Z" fill="#fff" stroke="#4a4a4a" stroke-width="0.55"/>
<path d="M39.2,114.1L39.8,114.2L39.5,114.6Z" fill="#fff" stroke="#4a4a4a" stroke-width="0.55"/>
<path d="M130.4,146.0L131.1,145.1L131.8,145.3L131.7,146.4L130.9,146.7Z" fill="#482878" stroke="#4a4a4a" stroke-width="0.55"/>
<path d="M127.3,151.1L127.7,150.8L127.7,151.3Z" fill="#fff" stroke="#4a4a4a" stroke-width="0.55"/>
<path d="M125.0,154.9L125.4,154.4L125.7,154.9L125.2,155.5Z" fill="#fff" stroke="#4a4a4a" stroke-width="0.55"/>
<path d="M122.6,159.4L122.7,159.6L122.6,159.6Z" fill="#fff" stroke="#4a4a4a" stroke-width="0.55"/>
<path d="M215.6,171.5L216.0,171.9L216.5,173.3L215.8,173.4L215.6,172.4Z" fill="#3e4989" stroke="#4a4a4a" stroke-width="0.55"/>
<path d="M216.9,169.1L217.4,169.7L217.1,170.6L216.8,170.2Z" fill="#3e4989" stroke="#4a4a4a" stroke-width="0.55"/>
<path d="M216.8,176.7L217.5,177.1L217.1,177.7Z" fill="#3e4989" stroke="#4a4a4a" stroke-width="0.55"/>
<path d="M226.8,187.1L227.5,187.9L227.2,188.5L226.7,188.1Z" fill="#fff" stroke="#4a4a4a" stroke-width="0.55"/>
<path d="M229.4,189.2L230.2,189.0L230.2,189.7Z" fill="#fff" stroke="#4a4a4a" stroke-width="0.55"/>
<path d="M227.9,189.4L228.4,189.6L228.3,189.8Z" fill="#fff" stroke="#4a4a4a" stroke-width="0.55"/>
<path d="M231.7,190.7L232.3,190.8L232.0,191.5Z" fill="#fff" stroke="#4a4a4a" stroke-width="0.55"/>
<path d="M211.1,285.1L212.0,285.1L211.8,285.6L211.3,285.5Z" fill="#fde725" stroke="#4a4a4a" stroke-width="0.55"/>
<path d="M217.8,111.6L218.6,111.8L218.3,112.5L217.7,112.1Z" fill="#482878" stroke="#4a4a4a" stroke-width="0.55"/>
</g>
</g>
<rect x="26.5" y="41.0" width="233.0" height="256.0" fill="none" stroke="#686868" stroke-width="1"/>
<text class="tk" x="51.7" y="307.6" text-anchor="middle">-20</text>
<text class="tk" x="107.0" y="307.6" text-anchor="middle">0</text>
<text class="tk" x="162.4" y="307.6" text-anchor="middle">20</text>
<text class="tk" x="217.8" y="307.6" text-anchor="middle">40</text>
<text class="tk" x="21.9" y="47.5" text-anchor="end">40</text>
<text class="tk" x="21.9" y="102.8" text-anchor="end">20</text>
<text class="tk" x="21.9" y="158.2" text-anchor="end">0</text>
<text class="tk" x="21.9" y="213.5" text-anchor="end">-20</text>
<text class="tk" x="21.9" y="268.8" text-anchor="end">-40</text>
<path d="M51.7,297.0v2.8M107.0,297.0v2.8M162.4,297.0v2.8M217.8,297.0v2.8M26.5,44.9h-2.8M26.5,100.2h-2.8M26.5,155.6h-2.8M26.5,210.9h-2.8M26.5,266.2h-2.8" stroke="#4a4a4a" stroke-width="1.1" fill="none"/>
<text class="ax" x="145.2" y="316.8" text-anchor="middle">Longitude</text>
<text class="ax" transform="translate(6.9,166.4) rotate(-90)" text-anchor="middle">Latitude</text>
<text x="273.3" y="134" font-size="9.2">Number of Studies</text>
<rect x="273.2" y="140.0" width="14.1" height="14.2" fill="#482878" stroke="#6a6a6a" stroke-width="1.25"/>
<text x="292" y="149.8" font-size="7.3">4</text>
<rect x="273.2" y="154.2" width="14.1" height="14.2" fill="#31688e" stroke="#6a6a6a" stroke-width="1.25"/>
<text x="292" y="164.0" font-size="7.3">6</text>
<rect x="273.2" y="168.4" width="14.1" height="14.2" fill="#1f9e89" stroke="#6a6a6a" stroke-width="1.25"/>
<text x="292" y="178.2" font-size="7.3">8</text>
<rect x="273.2" y="182.6" width="14.1" height="14.2" fill="#6ece58" stroke="#6a6a6a" stroke-width="1.25"/>
<text x="292" y="192.4" font-size="7.3">10</text>
<rect x="273.2" y="196.8" width="14.1" height="14.2" fill="#fde725" stroke="#6a6a6a" stroke-width="1.25"/>
<text x="292" y="206.6" font-size="7.3">12</text>
<text class="cal" x="563.2" y="12.3" font-size="14.5" text-anchor="middle">(b)</text>
<text x="399.5" y="28" font-size="9.6">Number of Articles by Year</text>
<path d="M400.2,292.5H618.5" stroke="#c9d8e1" stroke-width="0.9"/>
<path d="M396.6,292.5H399.2" stroke="#333" stroke-width="0.6"/>
<text x="395.6" y="294.8" font-size="6.4" fill="#4d4d4d" text-anchor="end">0</text>
<path d="M400.2,210.4H618.5" stroke="#c9d8e1" stroke-width="0.9"/>
<path d="M396.6,210.4H399.2" stroke="#333" stroke-width="0.6"/>
<text x="395.6" y="212.7" font-size="6.4" fill="#4d4d4d" text-anchor="end">2</text>
<path d="M400.2,128.3H618.5" stroke="#c9d8e1" stroke-width="0.9"/>
<path d="M396.6,128.3H399.2" stroke="#333" stroke-width="0.6"/>
<text x="395.6" y="130.6" font-size="6.4" fill="#4d4d4d" text-anchor="end">4</text>
<path d="M400.2,46.2H618.5" stroke="#c9d8e1" stroke-width="0.9"/>
<path d="M396.6,46.2H399.2" stroke="#333" stroke-width="0.6"/>
<text x="395.6" y="48.5" font-size="6.4" fill="#4d4d4d" text-anchor="end">6</text>
<path d="M417.8,40V296" stroke="#fff" stroke-width="1.6"/>
<path d="M448.2,40V296" stroke="#fff" stroke-width="1.6"/>
<path d="M478.6,40V296" stroke="#fff" stroke-width="1.6"/>
<path d="M509.0,40V296" stroke="#fff" stroke-width="1.6"/>
<path d="M539.4,40V296" stroke="#fff" stroke-width="1.6"/>
<path d="M569.8,40V296" stroke="#fff" stroke-width="1.6"/>
<path d="M600.2,40V296" stroke="#fff" stroke-width="1.6"/>
<rect x="404.20" y="251.4" width="14.30" height="41.1" fill="#0a6ea4"/>
<rect x="417.80" y="251.4" width="13.60" height="41.1" fill="#808080"/>
<path d="M417.8,304.6v1.4" stroke="#333" stroke-width="0.8"/>
<text x="417.8" y="313.4" font-size="6.45" fill="#4d4d4d" text-anchor="middle">2017</text>
<rect x="448.20" y="251.4" width="13.60" height="41.1" fill="#808080"/>
<path d="M448.2,304.6v1.4" stroke="#333" stroke-width="0.8"/>
<text x="448.2" y="313.4" font-size="6.45" fill="#4d4d4d" text-anchor="middle">2018</text>
<rect x="465.00" y="169.4" width="14.30" height="123.1" fill="#0a6ea4"/>
<rect x="478.60" y="128.3" width="13.60" height="164.2" fill="#808080"/>
<path d="M478.6,304.6v1.4" stroke="#333" stroke-width="0.8"/>
<text x="478.6" y="313.4" font-size="6.45" fill="#4d4d4d" text-anchor="middle">2019</text>
<rect x="495.40" y="251.4" width="14.30" height="41.1" fill="#0a6ea4"/>
<rect x="509.00" y="251.4" width="13.60" height="41.1" fill="#808080"/>
<path d="M509.0,304.6v1.4" stroke="#333" stroke-width="0.8"/>
<text x="509.0" y="313.4" font-size="6.45" fill="#4d4d4d" text-anchor="middle">2020</text>
<rect x="525.80" y="251.4" width="14.30" height="41.1" fill="#0a6ea4"/>
<rect x="539.40" y="46.2" width="13.60" height="246.3" fill="#808080"/>
<path d="M539.4,304.6v1.4" stroke="#333" stroke-width="0.8"/>
<text x="539.4" y="313.4" font-size="6.45" fill="#4d4d4d" text-anchor="middle">2021</text>
<rect x="556.20" y="210.4" width="14.30" height="82.1" fill="#0a6ea4"/>
<rect x="569.80" y="210.4" width="13.60" height="82.1" fill="#808080"/>
<path d="M569.8,304.6v1.4" stroke="#333" stroke-width="0.8"/>
<text x="569.8" y="313.4" font-size="6.45" fill="#4d4d4d" text-anchor="middle">2022</text>
<rect x="599.50" y="251.4" width="14.30" height="41.1" fill="#808080"/>
<rect x="586.60" y="128.3" width="13.60" height="164.2" fill="#0a6ea4"/>
<path d="M600.2,304.6v1.4" stroke="#333" stroke-width="0.8"/>
<text x="600.2" y="313.4" font-size="6.45" fill="#4d4d4d" text-anchor="middle">2023</text>
<path d="M399.7,34V304.2" stroke="#1a1a1a" stroke-width="1.1"/>
<text x="510" y="322.2" font-size="8.1" text-anchor="middle">Year</text>
<text transform="translate(389.3,168) rotate(-90)" font-size="8.1" text-anchor="middle">Articles</text>
<rect x="631" y="157.7" width="11.2" height="11.2" fill="#0a6ea4"/>
<rect x="631" y="170" width="11.2" height="11.4" fill="#808080"/>
<text x="646.8" y="165.6" font-size="6.4">mobile phone</text>
<text x="646.8" y="178.2" font-size="6.4">social media</text>
<text class="cal" x="377.9" y="355.8" font-size="14.5" text-anchor="middle">(c)</text>
<text class="cal" x="174.6" y="381" font-size="12.5" textLength="361.9" lengthAdjust="spacing">Percentage of Authors from African and Non-African Institutions</text>
<path d="M374,394.8A147.4,147.4 0 0 0 374,689.6Z" fill="url(#gb)"/>
<path d="M381.8,505.7A34,34 0 0 1 381.8,573.7Z" fill="url(#go)"/>
<text x="352.3" y="546.8" font-size="10.4" fill="#fff" text-anchor="middle">81%</text>
<text x="394.7" y="546.8" font-size="10.4" fill="#fff" text-anchor="middle">19%</text>
<text font-size="11.7" fill="#1f6a90" x="141" y="540.7" textLength="63.9" lengthAdjust="spacing">Non-African</text>
<text font-size="11.7" fill="#1f6a90" x="141" y="556.8" textLength="59.9" lengthAdjust="spacing">Institutions</text>
<text font-size="11.7" fill="#ee7f45" x="426.5" y="540.7" textLength="37.8" lengthAdjust="spacing">African</text>
<text font-size="11.7" fill="#ee7f45" x="426.9" y="556.8" textLength="59.9" lengthAdjust="spacing">Institutions</text>
</svg></body></html>
